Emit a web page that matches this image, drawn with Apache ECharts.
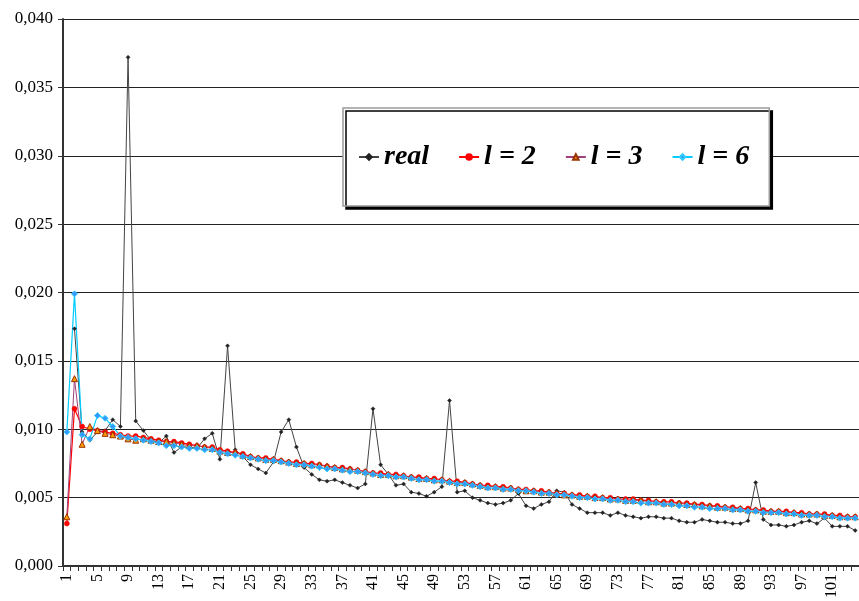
<!DOCTYPE html>
<html>
<head>
<meta charset="utf-8">
<script src="https://cdn.jsdelivr.net/npm/echarts@6/dist/echarts.min.js"></script>
<style>
html,body{margin:0;padding:0;background:#fff;}
#chart{width:859px;height:601px;}
</style>
</head>
<body>
<div id="chart"></div>
<script>
const categories = [];
for (let i = 1; i <= 104; i++) categories.push(String(i));

const realValues = [null,0.01735,0.0098,0.0092,0.0098,0.0099,0.0107,0.0102,0.0372,0.0106,
0.0099,0.0092,0.0090,0.0095,0.0083,0.0087,0.0087,0.0086,0.0093,0.0097,
0.0078,0.0161,0.0085,0.0080,0.0074,0.0071,0.0068,0.0076,0.0098,0.0107,
0.0087,0.0072,0.0067,0.0063,0.0062,0.0063,0.0061,0.0059,0.0057,0.0060,
0.0115,0.0074,0.0067,0.0059,0.0060,0.0054,0.0053,0.0051,0.0054,0.0058,
0.0121,0.0054,0.0055,0.0050,0.0048,0.0046,0.0045,0.0046,0.0048,0.0053,
0.0044,0.0042,0.0045,0.0047,0.0055,0.0054,0.0045,0.0042,0.0039,0.0039,
0.0039,0.0037,0.0039,0.0037,0.0036,0.0035,0.0036,0.0036,0.0035,0.0035,
0.0033,0.0032,0.0032,0.0034,0.0033,0.0032,0.0032,0.0031,0.0031,0.0033,
0.0061,0.0034,0.0030,0.0030,0.0029,0.0030,0.0032,0.0033,0.0031,0.0035,
0.0029,0.0029,0.0029,0.0026];

const l2Values = [0.0031,0.0115,0.0102,0.0100,0.0099,0.0098,0.0097,0.0096,0.0095,0.0095,
0.0094,0.0093,0.0092,0.0091,0.0091,0.0090,0.0089,0.0088,0.0087,0.0087,
0.0085,0.0084,0.0083,0.0082,0.0080,0.0079,0.0079,0.0078,0.0077,0.0076,
0.0076,0.0075,0.0075,0.0074,0.0073,0.0072,0.0072,0.0071,0.0070,0.0069,
0.0068,0.0068,0.0067,0.0067,0.0066,0.0065,0.0065,0.0064,0.0064,0.0063,
0.0062,0.0062,0.0061,0.0060,0.0059,0.0059,0.0058,0.0058,0.0057,0.0056,
0.0056,0.0055,0.0055,0.0054,0.0053,0.0053,0.0052,0.0052,0.0051,0.0051,
0.0050,0.0050,0.0049,0.0049,0.0049,0.0048,0.0048,0.0047,0.0047,0.0047,
0.0046,0.0046,0.0045,0.0045,0.0044,0.0044,0.0043,0.0043,0.0042,0.0042,
0.0041,0.0041,0.0040,0.0040,0.0040,0.0039,0.0039,0.0038,0.0038,0.0038,
0.0037,0.0037,0.0036,0.0036];

const l3Values = [0.0036,0.0137,0.0089,0.0102,0.0099,0.0097,0.0096,0.0095,0.0093,0.0092,
0.0093,0.0092,0.0091,0.0091,0.0090,0.0089,0.0088,0.0088,0.0087,0.0086,
0.0084,0.0083,0.0083,0.0081,0.0080,0.0079,0.0078,0.0078,0.0077,0.0076,
0.0075,0.0075,0.0074,0.0074,0.0073,0.0072,0.0071,0.0071,0.0070,0.0069,
0.0068,0.0067,0.0067,0.0066,0.0066,0.0065,0.0064,0.0064,0.0063,0.0063,
0.0062,0.0061,0.0061,0.0060,0.0059,0.0058,0.0058,0.0057,0.0057,0.0056,
0.0055,0.0055,0.0054,0.0054,0.0053,0.0052,0.0052,0.0051,0.0051,0.0050,
0.0050,0.0049,0.0049,0.0048,0.0048,0.0048,0.0047,0.0047,0.0046,0.0046,
0.0046,0.0045,0.0045,0.0044,0.0044,0.0043,0.0043,0.0042,0.0042,0.0041,
0.0041,0.0040,0.0040,0.0040,0.0039,0.0039,0.0038,0.0038,0.0038,0.0037,
0.0037,0.0036,0.0036,0.0036];

const l6Values = [0.0098,0.0199,0.0096,0.0093,0.0110,0.0108,0.0102,0.0095,0.0094,0.0093,
0.0092,0.0091,0.0090,0.0088,0.0088,0.0087,0.0086,0.0086,0.0085,0.0085,
0.0083,0.0082,0.0081,0.0080,0.0079,0.0078,0.0077,0.0077,0.0076,0.0075,
0.0074,0.0074,0.0073,0.0072,0.0071,0.0071,0.0070,0.0069,0.0069,0.0068,
0.0067,0.0066,0.0066,0.0065,0.0065,0.0064,0.0063,0.0063,0.0062,0.0062,
0.0061,0.0060,0.0060,0.0059,0.0058,0.0057,0.0057,0.0056,0.0056,0.0055,
0.0055,0.0054,0.0053,0.0053,0.0052,0.0052,0.0051,0.0050,0.0050,0.0049,
0.0049,0.0048,0.0048,0.0047,0.0047,0.0046,0.0046,0.0046,0.0045,0.0045,
0.0044,0.0044,0.0043,0.0043,0.0042,0.0042,0.0042,0.0041,0.0041,0.0040,
0.0040,0.0039,0.0039,0.0039,0.0038,0.0038,0.0037,0.0037,0.0037,0.0036,
0.0036,0.0035,0.0035,0.0035];

const seriesNames = ['real', 'l = 2', 'l = 3', 'l = 6'];

const FONT = '"Liberation Serif", "Times New Roman", serif';
const chart = echarts.init(document.getElementById('chart'), null, {renderer: 'canvas'});

chart.setOption({
  animation: false,
  backgroundColor: '#ffffff',
  grid: {left: 63, right: 0, top: 19, bottom: 34, containLabel: false},
  legend: {
    data: seriesNames,
    left: 343,
    top: 108,
    orient: 'horizontal',
    padding: [35, 20, 35, 15],
    itemGap: 29,
    itemWidth: 20,
    itemHeight: 7,
    backgroundColor: '#ffffff',
    borderColor: '#9a9a9a',
    borderWidth: 1.5,
    shadowColor: '#000000',
    shadowOffsetX: 3,
    shadowOffsetY: 3,
    shadowBlur: 0,
    textStyle: {fontFamily: FONT, fontSize: 28, fontWeight: 'bold', fontStyle: 'italic', color: '#000'}
  },
  xAxis: {
    type: 'category',
    data: categories,
    boundaryGap: true,
    axisLine: {lineStyle: {color: '#333', width: 2}},
    axisTick: {show: true, interval: 0, length: 5, lineStyle: {color: '#333', width: 1}},
    axisLabel: {interval: 3, rotate: 90, fontFamily: FONT, fontSize: 16, color: '#000', margin: 8},
    splitLine: {show: false}
  },
  yAxis: {
    type: 'value',
    min: 0,
    max: 0.04,
    interval: 0.005,
    axisLine: {show: true, lineStyle: {color: '#333', width: 2}},
    axisTick: {show: true, length: 5, lineStyle: {color: '#333', width: 1}},
    axisLabel: {
      fontFamily: FONT, fontSize: 17, color: '#000', margin: 10,
      formatter: v => v.toFixed(3).replace('.', ',')
    },
    splitLine: {show: true, lineStyle: {color: '#222', width: 1}}
  },
  series: [
    {
      name: seriesNames[0], type: 'line', data: realValues, connectNulls: false,
      symbol: 'diamond', symbolSize: 4, showAllSymbol: true,
      lineStyle: {color: '#444', width: 1},
      itemStyle: {color: '#222', borderColor: '#222', borderWidth: 0.5}
    },
    {
      name: seriesNames[1], type: 'line', data: l2Values,
      symbol: 'circle', symbolSize: 5, showAllSymbol: true,
      lineStyle: {color: '#ff0000', width: 1.2},
      itemStyle: {color: '#ff0000', borderColor: '#ff0000', borderWidth: 0.5}
    },
    {
      name: seriesNames[2], type: 'line', data: l3Values,
      symbol: 'triangle', symbolSize: 6, showAllSymbol: true,
      lineStyle: {color: '#a0407a', width: 1},
      itemStyle: {color: '#ff9900', borderColor: '#993300', borderWidth: 1}
    },
    {
      name: seriesNames[3], type: 'line', data: l6Values,
      symbol: 'diamond', symbolSize: 6, showAllSymbol: true,
      lineStyle: {color: '#00ccff', width: 1.2},
      itemStyle: {color: '#3399ff', borderColor: '#33ccff', borderWidth: 1}
    }
  ]
});
</script>
</body>
</html>
